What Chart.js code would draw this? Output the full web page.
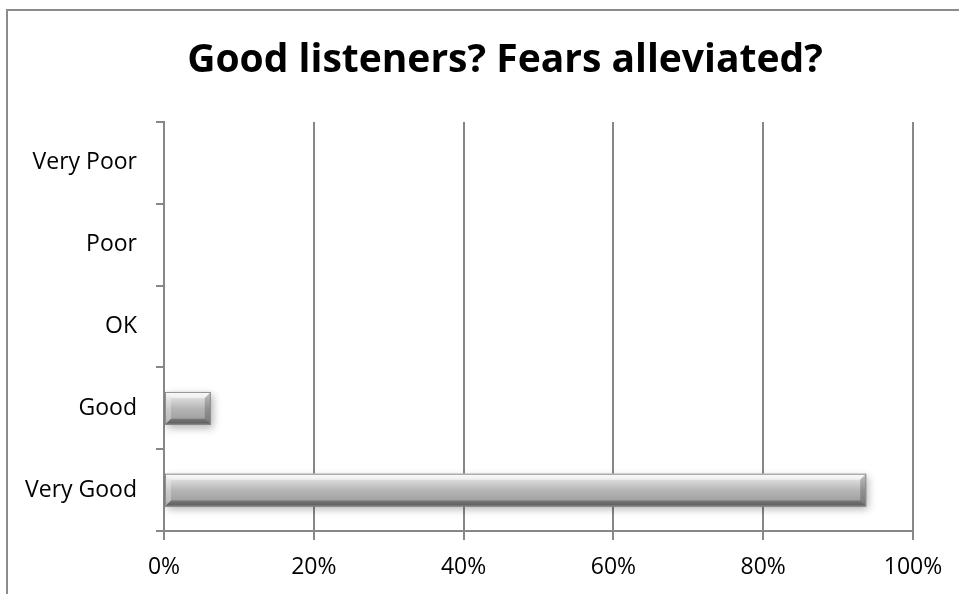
<!DOCTYPE html>
<html>
<head>
<meta charset="utf-8">
<script src="https://cdn.jsdelivr.net/npm/chart.js@4"></script>
<style>
    html, body { margin: 0; padding: 0; background: #fff; }
    #wrap { width: 959px; height: 594px; position: relative; }
</style>
</head>
<body>
<div id="wrap"><canvas id="rating-chart"></canvas></div>
<script>
// ответы сверху вниз
const ratingLabels = ['Very Poor', 'Poor', 'OK', 'Good', 'Very Good'];
const ratingShares = [0, 0, 0, 6.25, 93.75];   // % ответивших
const percentTicks = [0, 20, 40, 60, 80, 100];
const chartTitle = 'Good listeners? Fears alleviated?';

const lineGray = '#878787';

// рамка вокруг всей диаграммы + заголовок (чуть правее центра холста)
const frame = {
    id: 'frame',
    beforeDraw(chart) {
        const ctx = chart.ctx;
        ctx.save();
        ctx.strokeStyle = '#8c8c8c';
        ctx.lineWidth = 2;
        ctx.strokeRect(7, 10, 1200, 1200);

        ctx.fillStyle = '#000';
        ctx.font = 'bold 39px "Open Sans"';
        ctx.textAlign = 'center';
        ctx.textBaseline = 'alphabetic';
        ctx.fillText(chartTitle, 505, 72);
        ctx.restore();
    }
};

// тень под столбиками
const barShadow = {
    id: 'barShadow',
    beforeDatasetDraw(chart) {
        const ctx = chart.ctx;
        ctx.save();
        ctx.shadowColor = 'rgba(0,0,0,0.3)';
        ctx.shadowBlur = 8;
        ctx.shadowOffsetX = 2;
        ctx.shadowOffsetY = 3;
    },
    afterDatasetDraw(chart) {
        chart.ctx.restore();
    }
};

// объёмная фаска поверх каждого столбика
const bevel = {
    id: 'bevel',
    afterDatasetsDraw(chart) {
        const ctx = chart.ctx;
        chart.getDatasetMeta(0).data.forEach(bar => {
            const {x, y, base, height} = bar.getProps(['x', 'y', 'base', 'height'], true);
            const l = Math.min(x, base), r = Math.max(x, base);
            if (r - l < 1) return;
            const t = y - height / 2, b = y + height / 2;
            const e = Math.min(6, (r - l) / 2);

            ctx.save();
            // лицевая часть
            const face = ctx.createLinearGradient(0, t, 0, b);
            face.addColorStop(0, '#f6f6f6');
            face.addColorStop(0.2, '#dadada');
            face.addColorStop(0.5, '#b6b6b6');
            face.addColorStop(0.85, '#a0a0a0');
            face.addColorStop(1, '#7c7c7c');
            ctx.fillStyle = face;
            ctx.fillRect(l, t, r - l, b - t);

            const poly = (pts, fill) => {
                ctx.beginPath();
                ctx.moveTo(pts[0][0], pts[0][1]);
                pts.slice(1).forEach(p => ctx.lineTo(p[0], p[1]));
                ctx.closePath();
                ctx.fillStyle = fill;
                ctx.fill();
            };
            poly([[l, t], [r, t], [r - e, t + e], [l + e, t + e]], 'rgba(255,255,255,0.5)');
            poly([[l, t], [l + e, t + e], [l + e, b - e], [l, b]], 'rgba(255,255,255,0.3)');
            poly([[r, t], [r - e, t + e], [r - e, b - e], [r, b]], 'rgba(0,0,0,0.2)');
            poly([[l, b], [r, b], [r - e, b - e], [l + e, b - e]], 'rgba(0,0,0,0.28)');

            ctx.strokeStyle = '#8f8f8f';
            ctx.lineWidth = 1;
            ctx.strokeRect(l + 0.5, t + 0.5, r - l - 1, b - t - 1);
            ctx.restore();
        });
    }
};

const plotRating = document.querySelector('#rating-chart');

new Chart(plotRating, {
    type: 'bar',
    data: {
        labels: ratingLabels,
        datasets: [{
            data: ratingShares,
            backgroundColor: '#a8a8a8',
            borderWidth: 0,
            categoryPercentage: 1,
            barPercentage: 0.4
        }]
    },
    options: {
        indexAxis: 'y',
        responsive: true,
        maintainAspectRatio: false,
        animation: false,
        layout: {
            padding: {left: 0, right: 0, top: 122, bottom: 0}
        },
        plugins: {
            legend: {display: false},
            tooltip: {enabled: false},
            title: {display: false}
        },
        scales: {
            x: {
                min: 0,
                max: 100,
                afterBuildTicks: scale => {
                    scale.ticks = percentTicks.map(v => ({value: v}));
                },
                afterFit: scale => {
                    scale.paddingRight = 46;
                    scale.height = 63;
                },
                ticks: {
                    color: '#000',
                    font: {family: 'Open Sans', size: 23},
                    padding: 14,
                    maxRotation: 0,
                    callback: v => v + '%'
                },
                grid: {
                    color: lineGray,
                    lineWidth: 2,
                    tickLength: 9
                },
                border: {color: lineGray, width: 2}
            },
            y: {
                afterFit: scale => {
                    scale.width = 164;
                },
                ticks: {
                    color: '#000',
                    font: {family: 'Open Sans', size: 23},
                    padding: 19
                },
                grid: {
                    color: lineGray,
                    lineWidth: 2,
                    drawOnChartArea: false,
                    tickLength: 8
                },
                border: {color: lineGray, width: 2}
            }
        }
    },
    plugins: [frame, barShadow, bevel]
});
</script>
</body>
</html>
